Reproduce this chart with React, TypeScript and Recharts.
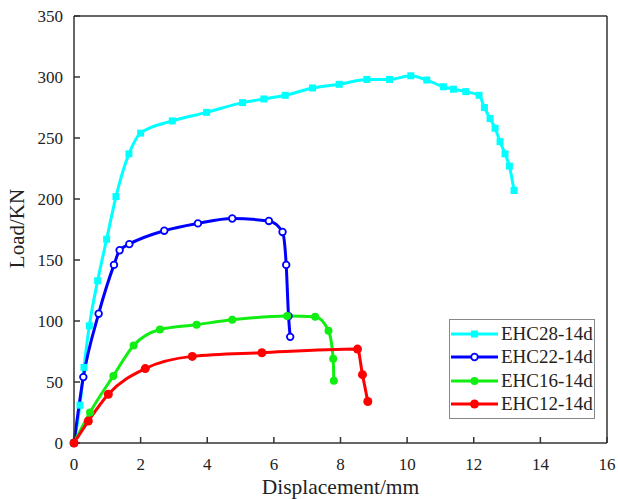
import { LineChart, Line, XAxis, YAxis, Legend, ReferenceLine } from 'recharts'

// displacement (mm) / load (KN)
const dispEHC28 = [0, 0.18, 0.3, 0.46, 0.71, 0.98, 1.26, 1.65, 2.0, 2.95, 3.98, 5.06, 5.7, 6.34, 7.16, 7.96, 8.79, 9.47, 10.11, 10.59, 11.09, 11.39, 11.76, 12.16, 12.32, 12.49, 12.64, 12.79, 12.94, 13.07, 13.21]
const loadEHC28 = [0, 31, 62, 96, 133, 167, 202, 237, 254, 264, 271, 279, 282, 285, 291, 294, 298, 298, 301, 297.5, 292, 290, 288, 285, 275, 266, 258, 247, 237, 227, 207]

const dispEHC22 = [0, 0.28, 0.74, 1.2, 1.37, 1.66, 2.71, 3.72, 4.75, 5.85, 6.26, 6.37, 6.44, 6.49]
const loadEHC22 = [0, 54, 106, 146, 158, 163, 174, 180, 184, 182, 173, 146, 104, 87]

const dispEHC16 = [0, 0.48, 1.18, 1.79, 2.58, 3.68, 4.75, 6.4, 7.24, 7.64, 7.78, 7.8]
const loadEHC16 = [0, 25, 55, 80, 93, 97, 101, 104, 103.5, 92, 69, 51]

const dispEHC12 = [0, 0.43, 1.03, 2.14, 3.55, 5.64, 8.51, 8.66, 8.82]
const loadEHC12 = [0, 18, 40, 61, 71, 74, 77, 56, 34]

const xTicks = [0, 2, 4, 6, 8, 10, 12, 14, 16]
const yTicks = [0, 50, 100, 150, 200, 250, 300, 350]

const zip = (xs: number[], ys: number[]) => xs.map((x, i) => ({ x, y: ys[i] }))

const FONT = '"Liberation Serif", "Times New Roman", serif'
const AXIS = '#333'

const series = [
  { name: 'EHC28-14d', color: '#00ffff', data: zip(dispEHC28, loadEHC28), marker: 'square' },
  { name: 'EHC22-14d', color: '#0000ff', data: zip(dispEHC22, loadEHC22), marker: 'open' },
  { name: 'EHC16-14d', color: '#11ee11', data: zip(dispEHC16, loadEHC16), marker: 'dot' },
  { name: 'EHC12-14d', color: '#ff0000', data: zip(dispEHC12, loadEHC12), marker: 'big' },
]

function Marker({ cx, cy, kind, color }: { cx: number; cy: number; kind: string; color: string }) {
  if (kind === 'square') return <rect x={cx - 3.5} y={cy - 3.5} width={7} height={7} fill={color} />
  if (kind === 'open') return <circle cx={cx} cy={cy} r={3.3} fill="#fff" stroke={color} strokeWidth={1.8} />
  if (kind === 'big') return <circle cx={cx} cy={cy} r={4.5} fill={color} />
  return <circle cx={cx} cy={cy} r={4} fill={color} />
}

const makeDot = (kind: string, color: string) => (props: any) => {
  const { cx, cy, index } = props
  if (cx == null || cy == null) return <g key={index} />
  return <Marker key={index} cx={cx} cy={cy} kind={kind} color={color} />
}

const renderLegend = () => (
  <div
    style={{
      border: '1px solid #888',
      background: '#fff',
      padding: '2px 0 2px 0',
      fontFamily: FONT,
      fontSize: 19,
      color: '#222',
    }}
  >
    {series.map((s) => (
      <div key={s.name} style={{ display: 'flex', alignItems: 'center', height: 23.5 }}>
        <svg width={50} height={14} style={{ display: 'block' }}>
          <line x1={1} y1={7} x2={48} y2={7} stroke={s.color} strokeWidth={3} />
          <Marker cx={24.5} cy={7} kind={s.marker} color={s.color} />
        </svg>
        <span style={{ marginLeft: 1, lineHeight: '20px' }}>{s.name}</span>
      </div>
    ))}
  </div>
)

const yLabel = (props: any) => {
  const { viewBox } = props
  const cx = viewBox.x + 17
  const cy = viewBox.y + viewBox.height / 2 - 1
  return (
    <text
      x={cx}
      y={cy}
      transform={`rotate(-90, ${cx}, ${cy})`}
      textAnchor="middle"
      dominantBaseline="central"
      fill="#222"
      fontSize={21}
      fontFamily={FONT}
    >
      Load/KN
    </text>
  )
}

export default function App() {
  return (
    <div style={{ position: 'absolute', left: 0, top: 0, background: '#fff' }}>
      <LineChart width={618} height={499} margin={{ top: 16, right: 11, bottom: 0, left: 0 }}>
        <XAxis
          dataKey="x"
          type="number"
          domain={[0, 16]}
          ticks={xTicks}
          allowDuplicatedCategory={false}
          height={56}
          stroke={AXIS}
          strokeWidth={1.5}
          tickSize={-6}
          tickMargin={21}
          tick={{ fill: '#222', fontSize: 17, fontFamily: FONT }}
          label={{ value: 'Displacement/mm', position: 'insideBottom', offset: 5, fill: '#222', fontSize: 21.5, fontFamily: FONT }}
        />
        <YAxis
          type="number"
          domain={[0, 350]}
          ticks={yTicks}
          width={74}
          stroke={AXIS}
          strokeWidth={1.5}
          tickSize={-6}
          tickMargin={17}
          tick={{ fill: '#222', fontSize: 17, fontFamily: FONT }}
          label={{ content: yLabel }}
        />
        <ReferenceLine y={350} stroke={AXIS} strokeWidth={1.5} ifOverflow="visible" />
        <ReferenceLine x={16} stroke={AXIS} strokeWidth={1.5} ifOverflow="visible" />
        <Legend
          layout="vertical"
          align="center"
          verticalAlign="middle"
          content={renderLegend}
          wrapperStyle={{ position: 'absolute', left: 449, top: 319, width: 146 }}
        />
        {series.map((s) => (
          <Line
            key={s.name}
            name={s.name}
            data={s.data}
            dataKey="y"
            type="monotone"
            stroke={s.color}
            strokeWidth={3}
            dot={makeDot(s.marker, s.color)}
            activeDot={false}
            isAnimationActive={false}
          />
        ))}
      </LineChart>
    </div>
  )
}
